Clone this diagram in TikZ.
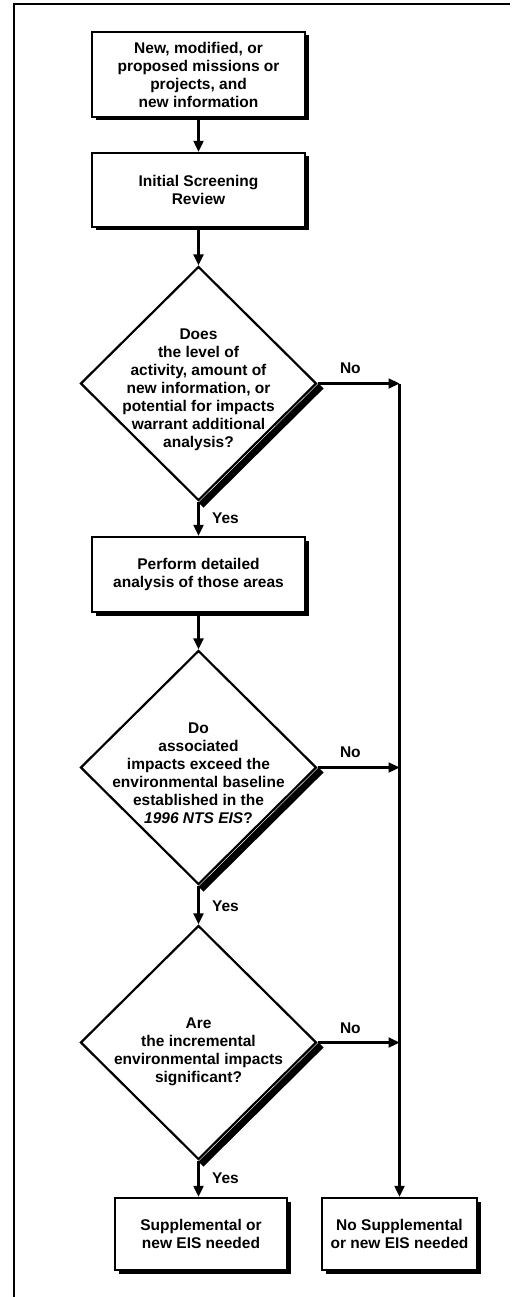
\documentclass[tikz,border=0pt]{standalone}
\usepackage{fontspec}
\setmainfont{Liberation Sans}
\usetikzlibrary{shapes.geometric,arrows.meta,calc,shadows}
\begin{document}
\begin{tikzpicture}[x=1pt,y=-1pt,
  txt/.style={font=\fontsize{15.5}{18}\selectfont\bfseries, align=center, inner sep=0pt},
  box/.style={txt, draw, line width=2.4pt, fill=white, minimum width=213pt,
    general shadow={fill=black, shadow xshift=3.5pt, shadow yshift=-3.5pt}},
  dia/.style={diamond, draw, line width=2.2pt, inner sep=0pt, aspect=1,
    minimum width=236pt, minimum height=234pt},
  thickedge/.style={line width=7pt, line cap=butt},
  arr/.style={line width=2.2pt, -{Triangle[length=11pt,width=10pt]}},
  lab/.style={font=\fontsize{15.5}{18}\selectfont\bfseries, inner sep=0pt},
  frame/.style={line width=2.6pt}
]
\useasboundingbox (0,0) rectangle (513,1297);
% frame
\coordinate (fb) at (14,1297);
\coordinate (ftl) at (14,4);
\coordinate (ftr) at (510,4);
\draw[frame] (fb) -- (ftl) -- (ftr);

% nodes
\node[box, minimum height=85pt] (b1) at (198.5,74.5)
  {New, modified, or\\proposed missions or\\projects, and\\new information};
\node[box, minimum height=74pt] (b2) at (198.5,190)
  {Initial Screening\\Review};
\node[dia] (d1) at (198.5,383.5) {};
\draw[thickedge] ([shift={(3.5,2.5)}]d1.east) -- ([shift={(2.5,3.5)}]d1.south);
\node[txt] (t1) at ([yshift=-6pt]d1.center)
  {Does\\the level of\\activity, amount of\\new information, or\\potential for impacts\\warrant additional\\analysis?};
\node[box, minimum height=75pt] (b3) at (198.5,574.5)
  {Perform detailed\\analysis of those areas};
\node[dia] (d2) at (198.5,767.5) {};
\draw[thickedge] ([shift={(3.5,2.5)}]d2.east) -- ([shift={(2.5,3.5)}]d2.south);
\node[txt] (t2) at ([yshift=-6pt]d2.center)
  {Do\\associated\\impacts exceed the\\environmental baseline\\established in the\\\textit{1996 NTS EIS}?};
\node[dia] (d3) at (198.5,1042.5) {};
\draw[thickedge] ([shift={(3.5,2.5)}]d3.east) -- ([shift={(2.5,3.5)}]d3.south);
\node[txt] (t3) at ([yshift=-9pt]d3.center)
  {Are\\the incremental\\environmental impacts\\significant?};
\node[box, minimum width=172pt, minimum height=72pt] (b4) at (201,1234)
  {Supplemental or\\new EIS needed};
\node[box, minimum width=155pt, minimum height=72pt] (b5) at (399.5,1234)
  {No Supplemental\\or new EIS needed};

% junction coordinates on the right vertical line
\coordinate (j1) at (d1.east -| b5.north);
\coordinate (j2) at (d2.east -| b5.north);
\coordinate (j3) at (d3.east -| b5.north);

% connectors
\draw[arr] (b1) -- (b2);
\draw[arr] (b2) -- (d1.north);
\draw[arr] (d1.south) -- (b3.north);
\draw[arr] (b3) -- (d2.north);
\draw[arr] (d2.south) -- (d3.north);
\draw[arr] (d3.south) -- (d3.south |- b4.north);
\draw[arr] (d1.east) -- (j1);
\draw[arr] (d2.east) -- (j2);
\draw[arr] (d3.east) -- (j3);
\draw[arr] (j1) -- (b5.north);

% labels
\node[lab] at ($(d1.east)!0.4!(j1)+(0,-15)$) {No};
\node[lab] at ($(d2.east)!0.4!(j2)+(0,-15)$) {No};
\node[lab] at ($(d3.east)!0.4!(j3)+(0,-14)$) {No};
\node[lab] at ($(d1.south)!0.5!(b3.north)+(27,0)$) {Yes};
\node[lab] at ($(d2.south)!0.5!(d3.north)+(27,1)$) {Yes};
\node[lab] at ($(d3.south)!0.5!(d3.south |- b4.north)+(27,0)$) {Yes};
\end{tikzpicture}
\end{document}
